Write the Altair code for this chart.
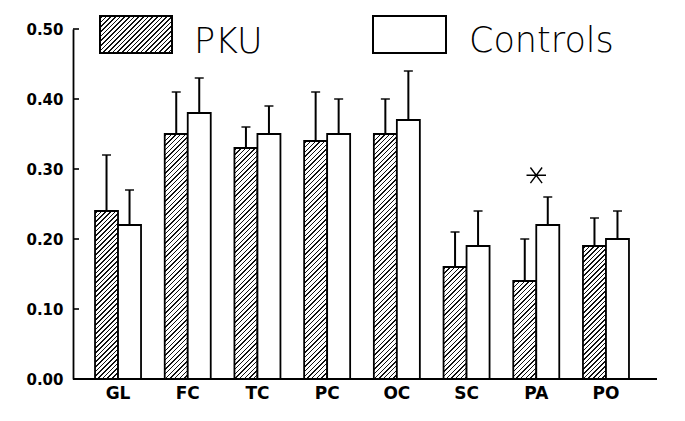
import math
import altair as alt

# ---- data ----
categories = ["GL", "FC", "TC", "PC", "OC", "SC", "PA", "PO"]
groups = ["PKU", "Controls"]
pku_mean = [0.24, 0.35, 0.33, 0.34, 0.35, 0.16, 0.14, 0.19]
pku_upper = [0.32, 0.41, 0.36, 0.41, 0.40, 0.21, 0.20, 0.23]
ctrl_mean = [0.22, 0.38, 0.35, 0.35, 0.37, 0.19, 0.22, 0.20]
ctrl_upper = [0.27, 0.43, 0.39, 0.40, 0.44, 0.24, 0.26, 0.24]
y_ticks = [0.0, 0.1, 0.2, 0.3, 0.4, 0.5]
star_cat = ["PA"]
star_value = [0.291]

# ---- layout (pixels) ----
W, H = 584, 350
Y_MAX = 0.5
X_RANGE = 578
P_INNER, P_OUTER = 0.34, 0.316
step = X_RANGE / (len(categories) - P_INNER + 2 * P_OUTER)
bar_w = step * (1 - P_INNER) / 2


def hatch(w, h, period=3.3, lw=1.0, ink="#111111"):
    """45-degree '/' hatching as a linear gradient in bounding-box units."""
    r = w / h
    t = (r + 1) / (r * r + 1)
    L = (w + h) / math.sqrt(2)
    stops = [{"offset": 0, "color": "white"}]
    k = 0
    while True:
        c = (k + 0.5) * period / L
        a = c - lw / 2 / L
        b = c + lw / 2 / L
        if a >= 1:
            break
        b = min(b, 1)
        stops += [
            {"offset": round(a, 5), "color": "white"},
            {"offset": round(a, 5), "color": ink},
            {"offset": round(b, 5), "color": ink},
            {"offset": round(b, 5), "color": "white"},
        ]
        k += 1
    stops.append({"offset": 1, "color": "white"})
    return {"gradient": "linear", "x1": 0, "y1": 0,
            "x2": round(t * r, 5), "y2": round(t, 5), "stops": stops}


records = []
for i, c in enumerate(categories):
    records.append({"cat": c, "group": "PKU", "value": pku_mean[i],
                    "upper": pku_upper[i],
                    "fill": hatch(bar_w, pku_mean[i] / Y_MAX * H)})
    records.append({"cat": c, "group": "Controls", "value": ctrl_mean[i],
                    "upper": ctrl_upper[i], "fill": "white"})
bars_data = alt.Data(values=records)

xscale = alt.Scale(domain=categories, range=[0, X_RANGE],
                   paddingInner=P_INNER, paddingOuter=P_OUTER)
oscale = alt.Scale(domain=groups, paddingInner=0, paddingOuter=0)
yscale = alt.Scale(domain=[0, Y_MAX], nice=False, zero=True)

FONT = "DejaVu Sans"

x_axis = alt.Axis(title=None, ticks=False, domain=False,
                  labelAngle=0, labelFont=FONT,
                  labelFontWeight="bold", labelFontSize=17,
                  labelColor="black", labelPadding=6)
y_axis = alt.Axis(title=None, values=y_ticks, format=".2f",
                  ticks=False, tickSize=0, grid=False,
                  domainColor="black", domainWidth=1.8,
                  labelFont=FONT, labelFontWeight="bold",
                  labelFontSize=15, labelColor="black",
                  labelPadding=10)


def X():
    return alt.X("cat:N", sort=categories, scale=xscale, axis=x_axis)


def Y(field):
    return alt.Y(field, scale=yscale, axis=y_axis)


off = alt.XOffset("group:N", sort=groups, scale=oscale)

bars = alt.Chart(bars_data).mark_bar(stroke="black", strokeWidth=1.8).encode(
    x=X(), xOffset=off, y=Y("value:Q"),
    fill=alt.Fill("fill:N", scale=None),
)

err = alt.Chart(bars_data).mark_rule(color="black", strokeWidth=2).encode(
    x=X(), xOffset=off, y=Y("value:Q"), y2="upper:Q",
)

caps = alt.Chart(bars_data).mark_tick(color="black", thickness=2, size=9).encode(
    x=X(), xOffset=off, y=Y("upper:Q"),
)

tick_data = alt.Data(values=[{"v": v} for v in y_ticks if v > 0])
yticks = alt.Chart(tick_data).mark_rule(color="black", strokeWidth=1.6).encode(
    y=Y("v:Q"), x=alt.value(0), x2=alt.value(6),
)

xline = alt.Chart(alt.Data(values=[{"v": 0}])).mark_rule(
    color="black", strokeWidth=2).encode(
    y=Y("v:Q"), x=alt.value(0), x2=alt.value(W),
)

star_data = alt.Data(values=[{"cat": c, "v": v} for c, v in zip(star_cat, star_value)])
star = alt.Chart(star_data).mark_point(
    shape="M-1,0L1,0M-0.6,-0.8L0.6,0.8M-0.6,0.8L0.6,-0.8",
    size=380, filled=False, color="black", strokeWidth=1.4, opacity=1,
).encode(
    x=X(), y=Y("v:Q"),
)

# legend drawn as marks above the plot
leg_pku_box = alt.Chart(alt.Data(values=[{"label": "PKU"}])).mark_rect(
    stroke="black", strokeWidth=2).encode(
    x=alt.value(27), x2=alt.value(99), y=alt.value(-13), y2=alt.value(24),
    fill=alt.value(hatch(72, 37)),
)
leg_ctrl_box = alt.Chart(alt.Data(values=[{"label": "Controls"}])).mark_rect(
    stroke="black", strokeWidth=2, fill="white").encode(
    x=alt.value(300), x2=alt.value(373), y=alt.value(-13), y2=alt.value(24),
)
leg_pku_txt = alt.Chart(alt.Data(values=[{"label": "PKU"}])).mark_text(
    align="left", baseline="alphabetic", font=FONT, fontSize=35,
    fontWeight=200, color="black").encode(
    x=alt.value(121), y=alt.value(24), text="label:N",
)
leg_ctrl_txt = alt.Chart(alt.Data(values=[{"label": "Controls"}])).mark_text(
    align="left", baseline="alphabetic", font=FONT, fontSize=35,
    fontWeight=200, color="black").encode(
    x=alt.value(396), y=alt.value(23), text="label:N",
)

chart = alt.layer(
    bars, err, caps, yticks, xline, star,
    leg_pku_box, leg_ctrl_box, leg_pku_txt, leg_ctrl_txt,
).properties(
    width=W, height=H,
    padding={"left": 65, "top": 21, "right": 12, "bottom": 30},
    autosize=alt.AutoSizeParams(type="none"),
    background="white",
).configure_view(stroke=None)

chart.save("out.html", embed_options={"renderer": "svg", "actions": False})
